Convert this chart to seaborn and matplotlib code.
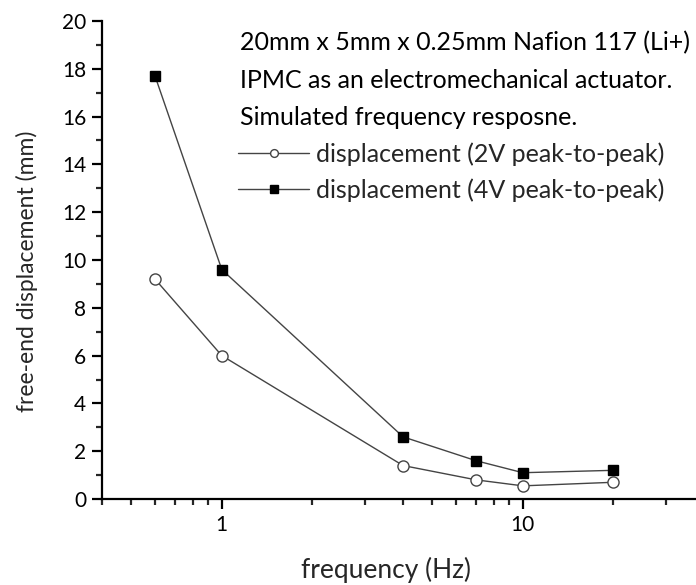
import matplotlib
matplotlib.use("Agg")
import matplotlib.pyplot as plt
import seaborn as sns
import pandas as pd
from matplotlib.ticker import FixedLocator, FixedFormatter, LogLocator, NullFormatter, MultipleLocator

frequency = [0.6, 1, 4, 7, 10, 20]
disp_2v = [9.2, 6.0, 1.4, 0.8, 0.55, 0.7]
disp_4v = [17.7, 9.6, 2.6, 1.6, 1.1, 1.2]
label_2v = "displacement (2V peak-to-peak)"
label_4v = "displacement (4V peak-to-peak)"
title_lines = ["20mm x 5mm x 0.25mm Nafion 117 (Li+)",
               "IPMC as an electromechanical actuator.",
               "Simulated frequency resposne."]

sns.set_style("ticks")
plt.rcParams['font.family'] = ['Lato', 'DejaVu Sans']

fig = plt.figure(figsize=(6.96, 5.85), dpi=100)
ax = fig.add_axes([102/696, 1-499/585, 1-102/696, (499-21)/585])

df2 = pd.DataFrame({"f": frequency, "d": disp_2v})
df4 = pd.DataFrame({"f": frequency, "d": disp_4v})
sns.lineplot(data=df2, x="f", y="d", ax=ax, color="#444444", lw=1.0,
             marker="o", markersize=8, markerfacecolor="white",
             markeredgecolor="#444444", markeredgewidth=1.0, label=label_2v)
sns.lineplot(data=df4, x="f", y="d", ax=ax, color="#444444", lw=1.0,
             marker="s", markersize=7.5, markerfacecolor="black",
             markeredgecolor="black", markeredgewidth=1.0, label=label_4v)

ax.set_xscale("log")
ax.set_xlim(0.4, 37.6)
ax.set_ylim(0, 20)
ax.xaxis.set_major_locator(FixedLocator([1, 10]))
ax.xaxis.set_major_formatter(FixedFormatter(["1", "10"]))
ax.xaxis.set_minor_locator(LogLocator(base=10, subs=range(2, 10), numticks=20))
ax.xaxis.set_minor_formatter(NullFormatter())
ax.yaxis.set_major_locator(MultipleLocator(2))
ax.yaxis.set_minor_locator(MultipleLocator(1))

for s in ["top", "right"]:
    ax.spines[s].set_visible(False)
for s in ["left", "bottom"]:
    ax.spines[s].set_linewidth(1.6)
    ax.spines[s].set_color("black")

ax.tick_params(axis="both", which="major", direction="out", length=7.5, width=1.6,
               labelsize=15, colors="black", pad=4)
ax.tick_params(axis="both", which="minor", direction="out", length=4.5, width=1.6)

ax.set_xlabel("frequency (Hz)", fontsize=19)
ax.set_ylabel("free-end displacement (mm)", fontsize=16.5)
ax.xaxis.set_label_coords(0.478, -0.149)
ax.yaxis.set_label_coords(-0.126, 0.477)
ax.xaxis.label.set_va("center")
ax.yaxis.label.set_va("center")

# annotation lines (baselines in pixels from top: 50, 88, 125)
for line, ypx in zip(title_lines, [50, 88, 125]):
    ax.text((240 - 102) / 594, (499 - ypx) / 478, line, transform=ax.transAxes,
            fontsize=18, ha="left", va="baseline", color="black")

leg = ax.legend(loc="center left", bbox_to_anchor=((238 - 102) / 594, (499 - 172) / 478),
                frameon=False, fontsize=18,
                handlelength=2.85, handletextpad=0.25, markerscale=0.7,
                labelspacing=0.5, borderaxespad=0.0, borderpad=0.0)

fig.savefig("out.png", dpi=100)
